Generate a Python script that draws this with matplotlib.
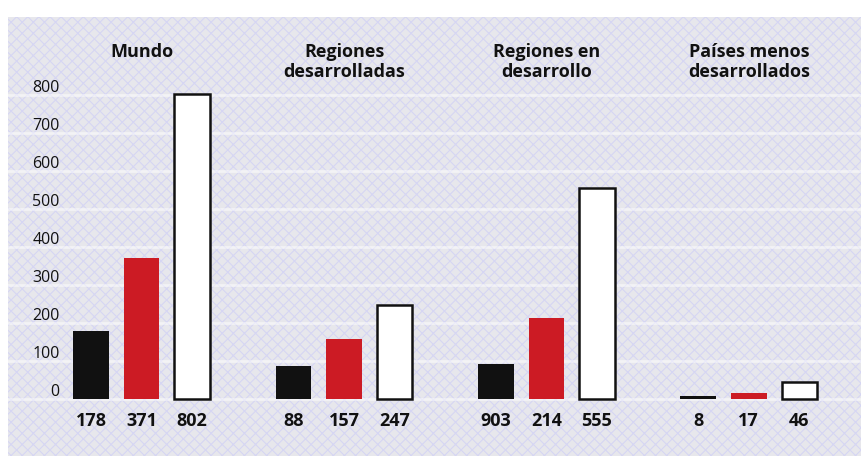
import matplotlib.pyplot as plt
from matplotlib.patches import Rectangle

groups = ['Mundo', 'Regiones\ndesarrolladas', 'Regiones en\ndesarrollo', 'Países menos\ndesarrollados']
black_vals = [178, 88, 93, 8]
red_vals = [371, 157, 214, 17]
white_vals = [802, 247, 555, 46]
bar_labels = [['178', '371', '802'], ['88', '157', '247'], ['903', '214', '555'], ['8', '17', '46']]
yticks = [0, 100, 200, 300, 400, 500, 600, 700, 800]

plt.rcParams['font.family'] = ['Open Sans', 'DejaVu Sans']
plt.rcParams['hatch.linewidth'] = 0.8

W, H = 861, 460
fig = plt.figure(figsize=(W / 100, H / 100), dpi=100)
fig.patch.set_facecolor('white')
# panel: px 8..861 horizontally, 18..457 vertically
ax = fig.add_axes([8 / W, 3 / H, (W - 8) / W, (457 - 18) / H])
ax.set_facecolor('#e7e7ec')
ax.add_patch(Rectangle((0, 0), 1, 1, transform=ax.transAxes, facecolor='none',
                       edgecolor='#d6d6f3', hatch='xxx', lw=0, zorder=0))
for s in ax.spines.values():
    s.set_visible(False)
ax.set_xticks([])
ax.set_yticks([])

# 1 x-unit = 50.6 px, first bar center at px 91; 1 y-unit = 0.38 px, baseline at px 400
ax.set_xlim((8 - 91) / 50.6, (861 - 91) / 50.6)
ax.set_ylim(-(457 - 400) / 0.38, (400 - 18) / 0.38)

for v in yticks:
    ax.axhline(v, color='white', lw=2, alpha=0.5, zorder=0.5)
    ax.text(-0.62, v, str(v), ha='right', va='bottom', fontsize=11.5, color='#111111')

colors = ['#111111', '#cc1b24', 'white']
for g, name in enumerate(groups):
    vals = [black_vals[g], red_vals[g], white_vals[g]]
    for j in range(3):
        x = g * 4 + j
        ax.bar(x, vals[j], width=0.7, bottom=0, color=colors[j],
               edgecolor='#111111' if j == 2 else colors[j], linewidth=1.8 if j == 2 else 0,
               zorder=2)
        ax.text(x, -55, bar_labels[g][j], ha='center', va='center', fontsize=13,
                fontweight='bold', color='#111111')
    ax.text(g * 4 + 1, 940, name, ha='center', va='top', fontsize=13,
            fontweight='bold', color='#111111', linespacing=1.15)

fig.savefig('out.png', dpi=100)
